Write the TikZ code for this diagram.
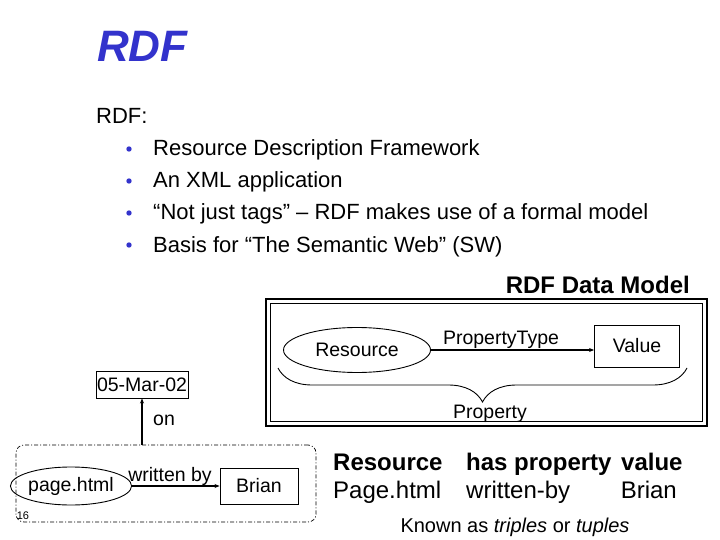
\documentclass[tikz,border=0pt]{standalone}
\usepackage{fontspec}
\setmainfont{Liberation Sans}
\usetikzlibrary{arrows.meta,shapes.geometric,decorations.pathreplacing}
\definecolor{titleblue}{RGB}{51,51,204}
\newcommand{\fsz}[1]{\fontsize{#1}{#1}\selectfont}

\begin{document}
\begin{tikzpicture}[x=1pt,y=-1pt,>=Stealth,
  body/.style={anchor=base west,inner sep=0pt,font=\fsz{22}},
  diag/.style={inner sep=0pt,font=\fsz{19.5}},
  oval/.style={diag,draw,ellipse,line width=0.9pt},
  valbox/.style={diag,draw,rectangle,line width=0.9pt},
  tri/.style={anchor=base west,inner sep=0pt,font=\fsz{24}},
  link/.style={->,line width=1.2pt,>={Stealth[length=5pt,width=4pt]}}]
\useasboundingbox (0,0) rectangle (720,540);
% title and bullets
\node[anchor=base west,inner sep=0pt,font=\fsz{44}\bfseries\itshape,text=titleblue] (title) at (97,62) {RDF};
\node[body] (rdf) at (96,124) {RDF:};
\foreach \y/\txt [count=\i] in {156/{Resource Description Framework},
  188/{An XML application},
  220/{“Not just tags” – RDF makes use of a formal model},
  252/{Basis for “The Semantic Web” (SW)}}{
  \fill[titleblue] (129,\y-7) circle (2.7);
  \node[body] (item\i) at (153,\y) {\txt};
}
% data model
\node[anchor=base east,inner sep=0pt,font=\fsz{24}\bfseries] (dmtitle) at (690,293) {RDF Data Model};
\draw[line width=2.5pt] (266,299) rectangle (707,426);
\draw[line width=0.8pt] (270.5,303.5) rectangle (702.5,421.5);
\node[oval,minimum width=147,minimum height=45] (res) at (357,350) {Resource};
\node[valbox,minimum width=85,minimum height=42] (val) at (637,346) {Value};
\draw[link] (res.east) -- (res.east -| val.west);
\node[diag] (ptype) at (501,340) {PropertyType};
\draw[line width=0.9pt,decorate,decoration={brace,amplitude=34pt}] (687,368) -- (278,368);
\node[diag] (prop) at (490,414) {Property};
% example statement
\node[valbox,minimum width=92,minimum height=27] (date) at (142,384.5) {05-Mar-02};
\node[draw,line width=0.7pt,dash pattern=on 4pt off 2pt on 1pt off 2pt,rounded corners=8pt,
  minimum width=300,minimum height=77,inner sep=0pt] (stmt) at (166,483.5) {};
\draw[link] (stmt.north -| date.south) -- (date.south);
\node[diag,anchor=west] (on) at (153,420) {on};
\node[oval,minimum width=108,minimum height=38] (page) at (71,486) {page.html};
\node[valbox,minimum width=78,minimum height=36] (brian) at (259,486) {Brian};
\draw[link] (page.east) -- (brian.west);
\node[diag] (wby) at (170,476) {written by};
\node[font=\fsz{11},inner sep=0pt] (pgno) at (23,516) {16};
% triples
\node[tri,font=\fsz{24}\bfseries] (hres) at (333,470) {Resource};
\node[tri,font=\fsz{24}\bfseries] (hprop) at (466,470) {has property};
\node[tri,font=\fsz{24}\bfseries] (hval) at (621,470) {value};
\node[tri] (tres) at (333,498) {Page.html};
\node[tri] (tprop) at (466,498) {written-by};
\node[tri,anchor=base east] (tval) at (677,498) {Brian};
\node[font=\fsz{20},inner sep=0pt,anchor=base] (known) at (515,532) {Known as \textit{triples} or \textit{tuples}};
\end{tikzpicture}
\end{document}
